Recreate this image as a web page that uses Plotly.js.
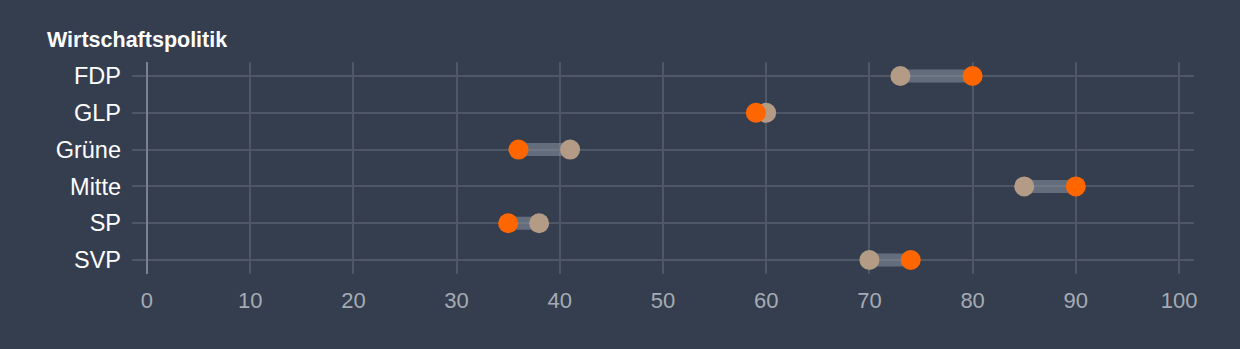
<!DOCTYPE html>
<html>
<head>
<meta charset="utf-8">
<script src="https://cdn.plot.ly/plotly-3.0.1.min.js"></script>
<style>html,body{margin:0;padding:0;background:#343e4f;}#chart{width:1240px;height:349px;}</style>
</head>
<body>
<div id="chart"></div>
<script>
const parties = ["FDP", "GLP", "Grüne", "Mitte", "SP", "SVP"];
const seriesA = [73, 60, 41, 85, 38, 70];   // beige
const seriesB = [80, 59, 36, 90, 35, 74];   // orange
const xTicks = [0, 10, 20, 30, 40, 50, 60, 70, 80, 90, 100];

const traces = [];
parties.forEach((p, i) => {
  traces.push({
    type: 'scatter', mode: 'lines',
    x: [seriesA[i], seriesB[i]], y: [p, p],
    line: {color: 'rgba(140,148,162,0.55)', width: 13},
    hoverinfo: 'skip', showlegend: false
  });
});
traces.push({
  type: 'scatter', mode: 'markers', x: seriesA, y: parties,
  marker: {color: '#b39b86', size: 20}, showlegend: false
});
traces.push({
  type: 'scatter', mode: 'markers', x: seriesB, y: parties,
  marker: {color: '#ff6600', size: 20}, showlegend: false
});

const layout = {
  width: 1240, height: 349,
  paper_bgcolor: '#343e4f', plot_bgcolor: '#343e4f',
  margin: {l: 132, r: 46, t: 62, b: 75},
  font: {family: 'Liberation Sans, Arial, sans-serif', color: '#ffffff'},
  title: {
    text: 'Wirtschaftspolitik', x: 47/1240, xanchor: 'left', xref: 'container',
    y: 1 - 39/349, yanchor: 'middle', yref: 'container',
    font: {size: 21.5, color: '#ffffff', family: 'Liberation Sans, Arial, sans-serif', weight: 'bold'}
  },
  xaxis: {
    range: [-1.45, 101.45], tickvals: xTicks, ticktext: xTicks.map(String),
    showgrid: true, gridcolor: '#4f5766', gridwidth: 2,
    zeroline: true, zerolinecolor: '#7c838f', zerolinewidth: 2,
    showline: false, ticks: '', tickfont: {size: 22, color: '#a6abb3'},
    ticklabelstandoff: 11
  },
  yaxis: {
    type: 'category', categoryorder: 'array', categoryarray: parties,
    autorange: false, range: [5.38, -0.38],
    showgrid: true, gridcolor: '#4f5766', gridwidth: 2,
    zeroline: false, showline: false, ticks: '',
    tickfont: {size: 23.5, color: '#ffffff'}, ticklabelstandoff: 10
  },
  hovermode: false
};
Plotly.newPlot('chart', traces, layout, {displayModeBar: false, staticPlot: true});
</script>
</body>
</html>
